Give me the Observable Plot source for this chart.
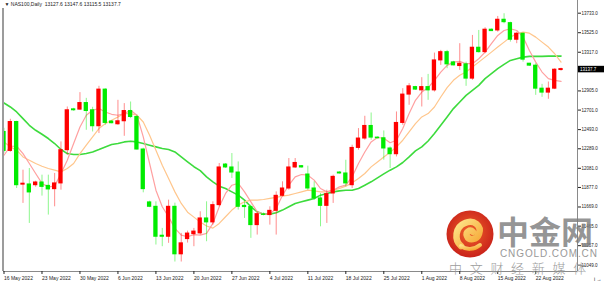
<!DOCTYPE html>
<html><head><meta charset="utf-8">
<script src="https://cdn.jsdelivr.net/npm/d3@7"></script>
<script src="https://cdn.jsdelivr.net/npm/@observablehq/plot@0.6"></script>
<style>
html,body{margin:0;padding:0;background:#fff;}
#wrap{position:relative;width:604px;height:283px;overflow:hidden;background:#fff;}
#chart svg{display:block;}
.lb{position:absolute;left:2px;top:8px;width:1.5px;height:263px;background:#9c9c9c;}
.wm{position:absolute;white-space:nowrap;line-height:1;pointer-events:none;}
.wm1{left:497px;top:207px;font:700 32px "Noto Sans CJK SC",sans-serif;color:rgba(125,125,125,0.82);}
.wm2{left:500px;top:248px;font:400 10px "Liberation Sans",Arial,sans-serif;letter-spacing:0.9px;color:#999;}
.wm3{left:449px;top:258px;font:300 13px "Noto Sans CJK SC",sans-serif;letter-spacing:7.7px;color:#9c9c9c;}
.logo{position:absolute;left:446px;top:210px;}
</style></head>
<body>
<div id="wrap">
<div id="chart"></div>
<div class="lb"></div>
<svg class="logo" width="48" height="48" viewBox="0 0 48 48">
<defs>
<radialGradient id="rg" cx="50%" cy="45%" r="55%"><stop offset="0" stop-color="#f0622a"/><stop offset="1" stop-color="#c9221a"/></radialGradient>
<linearGradient id="yg" x1="0" y1="0" x2="1" y2="1"><stop offset="0" stop-color="#fde48a"/><stop offset="1" stop-color="#f6a531"/></linearGradient>
</defs>
<circle cx="24" cy="24" r="23.5" fill="url(#rg)"/>
<path d="M15 36 C8 30 9 17 19 13 C28 9 36 16 33 24 C31 30 23 31 21 26 C19 22 24 19 27 22" fill="none" stroke="url(#yg)" stroke-width="6.5" stroke-linecap="round"/>
<path d="M15 36 C20 40 28 40 34 35" fill="none" stroke="url(#yg)" stroke-width="4" stroke-linecap="round"/>
</svg>
<div class="wm wm1">中金网</div>
<div class="wm wm2">CNGOLD.COM.CN</div>
<div class="wm wm3">中文财经新媒体</div>
</div>
<script>
// Daily NAS100 bars, 16 May 2022 – 26 Aug 2022 (broker feed incl. Sunday bars)
const open  = [12468,12266,12574,11907,11909,11901,11930,11894,11859,11920,12274,12709,12706,12776,12699,12529,12919,12579,12550,12582,12691,12627,12281,11718,11671,11363,11352,11671,11165,11327,11380,11388,11547,11505,11689,12121,12090,12036,11681,11668,11476,11590,11583,11628,11788,11866,12090,12104,12015,11866,11760,11681,11813,12036,12026,11901,12298,12398,12532,12408,12401,12292,12231,12564,12866,12946,12911,12946,12911,13230,13318,13209,13170,13188,13036,13365,13318,13557,13549,13663,13627,13450,13514,13195,13174,12929,12887,12929,13127.6];
const high  = [12507,12603,12582,12061,12079,11944,12008,12008,12026,12362,12734,12720,12887,12826,12731,12954,12929,12587,12805,12770,12787,12646,12295,11731,11724,11441,11742,11710,11388,11412,11441,11618,11724,11724,12132,12132,12238,12149,11724,11689,11618,11605,11671,11830,11937,12185,12185,12110,12104,11937,11813,11848,12008,12045,12167,12327,12504,12635,12670,12415,12479,12309,12681,12929,12983,12954,13046,13081,13308,13337,13337,13220,13408,13212,13496,13549,13578,13565,13698,13727,13637,13531,13520,13198,13195,12975,13000,13142,13147.6];
const low   = [12242,12252,11866,11707,11494,11880,11785,11583,11671,11848,12220,12688,12699,12486,12468,12451,12539,12555,12539,12422,12610,12274,11820,11662,11264,11246,11282,11083,11083,11285,11246,11370,11299,11476,11671,12080,11973,11636,11547,11335,11370,11575,11476,11370,11777,11848,12079,12085,11848,11741,11458,11494,11707,12020,11884,11866,12274,12380,12380,12395,12167,12079,12202,12539,12752,12911,12734,12805,12893,13177,13142,13172,13124,12954,13018,13308,13301,13538,13531,13620,13425,13408,13212,13166,12858,12837,12816,12919,13115.5];
const close = [12266,12574,11901,11917,11824,11930,11883,11856,11920,12274,12699,12699,12776,12691,12529,12919,12564,12561,12582,12691,12627,12281,11859,11671,11352,11352,11671,11165,11282,11386,11407,11547,11505,11689,12090,12090,12036,11671,11668,11476,11593,11585,11628,11788,11866,12090,12138,12090,11866,11760,11681,11806,11990,12026,11920,12298,12398,12532,12408,12401,12292,12231,12564,12866,12954,12919,12946,12911,13230,13318,13188,13177,13195,13036,13365,13318,13557,13542,13663,13637,13450,13514,13238,13174,12929,12887,12929,13131,13137.7];

// moving averages as drawn (fast pink, medium orange, slow green)
const maFast = [12220,12316,12316,12238,12132,12026,11920,11883,11891,12026,12167,12345,12521,12646,12699,12717,12681,12656,12646,12664,12699,12646,12415,12132,11848,11671,11565,11441,11370,11352,11375,11370,11388,11494,11671,11813,11901,11920,11830,11724,11618,11593,11593,11654,11795,11901,11990,12015,12008,11955,11866,11830,11848,11883,11901,11990,12132,12255,12362,12409,12401,12353,12380,12504,12664,12805,12893,12940,13018,13106,13177,13212,13220,13195,13195,13248,13318,13408,13496,13549,13567,13549,13478,13336,13212,13106,13036,13018,13007];
const maMid  = [12362,12309,12274,12202,12167,12132,12103,12079,12061,12043,12079,12132,12238,12327,12415,12504,12557,12592,12628,12664,12664,12646,12574,12433,12274,12114,11973,11830,11707,11614,11561,11508,11466,11444,11494,11565,11636,11689,11724,11742,11742,11749,11760,11771,11785,11795,11813,11830,11848,11841,11830,11830,11848,11866,11891,11926,11973,12026,12096,12149,12202,12252,12309,12380,12468,12557,12628,12664,12734,12840,12940,13018,13071,13106,13159,13212,13265,13318,13372,13425,13478,13514,13531,13520,13478,13425,13372,13301,13212];
const maSlow = [12776,12734,12681,12610,12539,12486,12444,12398,12345,12281,12238,12228,12228,12238,12255,12281,12309,12334,12345,12362,12369,12362,12345,12327,12309,12292,12281,12255,12202,12149,12098,12056,11990,11937,11891,11866,11830,11795,11742,11671,11618,11593,11593,11607,11636,11671,11707,11724,11742,11760,11795,11813,11830,11841,11848,11848,11866,11901,11937,11979,12021,12061,12096,12143,12202,12266,12309,12372,12451,12539,12628,12717,12787,12858,12911,12964,13036,13089,13142,13188,13230,13248,13265,13273,13273,13273,13276,13276,13276];

// axis labels
const priceTicks = [13733,13525,13317,12905,12701,12493,12289,12081,11877,11669,11465,11257,11049];
const dateBars   = [0,6,12,18,24,30,36,42,48,54,60,66,72,78,84];
const dateLabels = ["16 May 2022","23 May 2022","30 May 2022","6 Jun 2022","13 Jun 2022","20 Jun 2022","27 Jun 2022","4 Jul 2022","11 Jul 2022","18 Jul 2022","25 Jul 2022","1 Aug 2022","8 Aug 2022","15 Aug 2022","22 Aug 2022"];
const titleText = "▼ NAS100,Daily  13127.6 13147.6 13115.5 13137.7";

const rows = open.map((o, i) => ({i, o, h: high[i], l: low[i], c: close[i]}));
const up = d => d.c >= d.o;
const RED = "#ff0000", GREEN = "#00ec00";
const xDom = [-0.08, 90.6];
const yDom = [10982, 13868];
const last = close[close.length - 1];

const chart = Plot.plot({
  width: 604, height: 283,
  marginLeft: 3, marginRight: 27, marginTop: 0, marginBottom: 12,
  x: {domain: xDom, axis: null},
  y: {domain: yDom, axis: null},
  color: {type: "identity"},
  style: {fontFamily: "'Liberation Sans', Arial, sans-serif", background: "#fff", overflow: "visible"},
  marks: [
    Plot.lineY(maSlow, {stroke: "#3ddb3d", strokeWidth: 1.6, clip: true}),
    Plot.lineY(maMid, {stroke: "#ffc68c", strokeWidth: 1.2, clip: true}),
    Plot.lineY(maFast, {stroke: "#ffa0a0", strokeWidth: 1.2, clip: true}),
    Plot.ruleX(rows, {x: "i", y1: "l", y2: "h", stroke: d => up(d) ? RED : GREEN, strokeOpacity: 0.45, clip: true}),
    Plot.rect(rows, {x1: d => d.i - 0.34, x2: d => d.i + 0.34, y1: "o", y2: "c", fill: d => up(d) ? RED : GREEN, insetTop: -0.5, insetBottom: -0.5, clip: true}),
    Plot.ruleX([xDom[1]], {stroke: "#8a8a8a", strokeWidth: 1}),
    Plot.ruleY([yDom[0]], {stroke: "#8a8a8a", strokeWidth: 1}),
    Plot.axisY({anchor: "right", ticks: priceTicks, tickFormat: d => d.toFixed(1), tickSize: 3, tickPadding: 1, fontSize: 4.5, color: "#222"}),
    Plot.axisX({anchor: "bottom", ticks: dateBars, tickFormat: d => dateLabels[dateBars.indexOf(d)], tickSize: 3, tickPadding: 1.5, textAnchor: "start", fontSize: 5, color: "#222"}),
    Plot.ruleY([last], {x1: 90.75, x2: 95.5, stroke: "#000", strokeWidth: 6.5}),
    Plot.text([last], {x: 91.0, y: d => d, text: d => d.toFixed(1), fill: "#fff", textAnchor: "start", fontSize: 4.5}),
    Plot.text([titleText], {frameAnchor: "top-left", dx: 1, dy: 1.5, lineAnchor: "top", fontSize: 5, fill: "#222"})
  ]
});
document.getElementById("chart").appendChild(chart);
</script>
</body></html>
